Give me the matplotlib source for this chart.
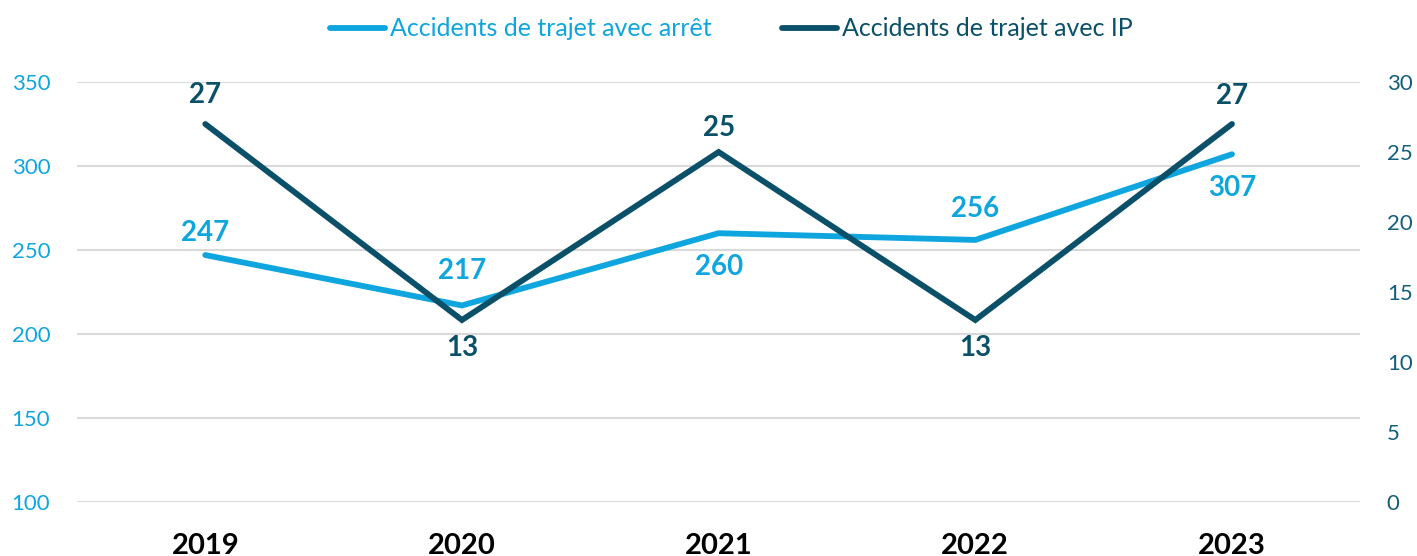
import matplotlib
matplotlib.use("Agg")
import matplotlib.pyplot as plt

years = ["2019", "2020", "2021", "2022", "2023"]
arret = [247, 217, 260, 256, 307]
ip = [27, 13, 25, 13, 27]

# label offsets (points) — styling, not data
arret_offsets = [16, 25, -24, 22, -24]
ip_offsets = [21, -20, 17, -20, 20]

c_light = "#0fa6df"
c_dark = "#0b5069"
c_tick_right = "#125f7c"

plt.rcParams['font.family'] = ['Lato', 'DejaVu Sans']

fig = plt.figure(figsize=(14.17, 5.56), dpi=100)
ax = fig.add_axes([0.0543, 0.0971, 0.9057, 0.7554])
ax2 = ax.twinx()

x = list(range(len(years)))
ax.plot(x, arret, color=c_light, lw=4.2, solid_capstyle='round', solid_joinstyle='miter', zorder=3,
        label="Accidents de trajet avec arrêt")
ax2.plot(x, ip, color=c_dark, lw=4.2, solid_capstyle='round', solid_joinstyle='miter', zorder=3,
         label="Accidents de trajet avec IP")

ax.set_ylim(100, 350)
ax2.set_ylim(0, 30)
ax.set_xlim(-0.5, 4.5)
ax.set_yticks([100, 150, 200, 250, 300, 350])
ax2.set_yticks([0, 5, 10, 15, 20, 25, 30])
ax.set_xticks(x)
ax.set_xticklabels(years, fontsize=21, fontweight='bold', color='black')

ax.grid(axis='y', color='#d9d9d9', lw=1.5)
ax.set_axisbelow(True)
for a in (ax, ax2):
    for s in a.spines.values():
        s.set_visible(False)
ax.tick_params(axis='y', length=0, labelsize=16, labelcolor=c_light, pad=47)
ax.tick_params(axis='x', length=0, pad=22)
ax2.tick_params(axis='y', length=0, labelsize=16, labelcolor=c_tick_right, pad=19)
for lab in ax.get_yticklabels():
    lab.set_horizontalalignment('left')

for xi, v, off in zip(x, arret, arret_offsets):
    ax.annotate(str(v), (xi, v), xytext=(0, off), textcoords='offset points',
                ha='center', va='center', fontsize=20, fontweight='bold', color=c_light)
for xi, v, off in zip(x, ip, ip_offsets):
    ax2.annotate(str(v), (xi, v), xytext=(0, off), textcoords='offset points',
                 ha='center', va='center', fontsize=20, fontweight='bold', color=c_dark)

h1, l1 = ax.get_legend_handles_labels()
h2, l2 = ax2.get_legend_handles_labels()
leg = fig.legend(h1 + h2, l1 + l2, loc='center', bbox_to_anchor=(0.516, 0.948), ncol=2,
                 frameon=False, fontsize=18, handlelength=2.2, handletextpad=0.2,
                 columnspacing=2.8)
for t, c in zip(leg.get_texts(), [c_light, c_dark]):
    t.set_color(c)

fig.savefig("out.png", dpi=100)
